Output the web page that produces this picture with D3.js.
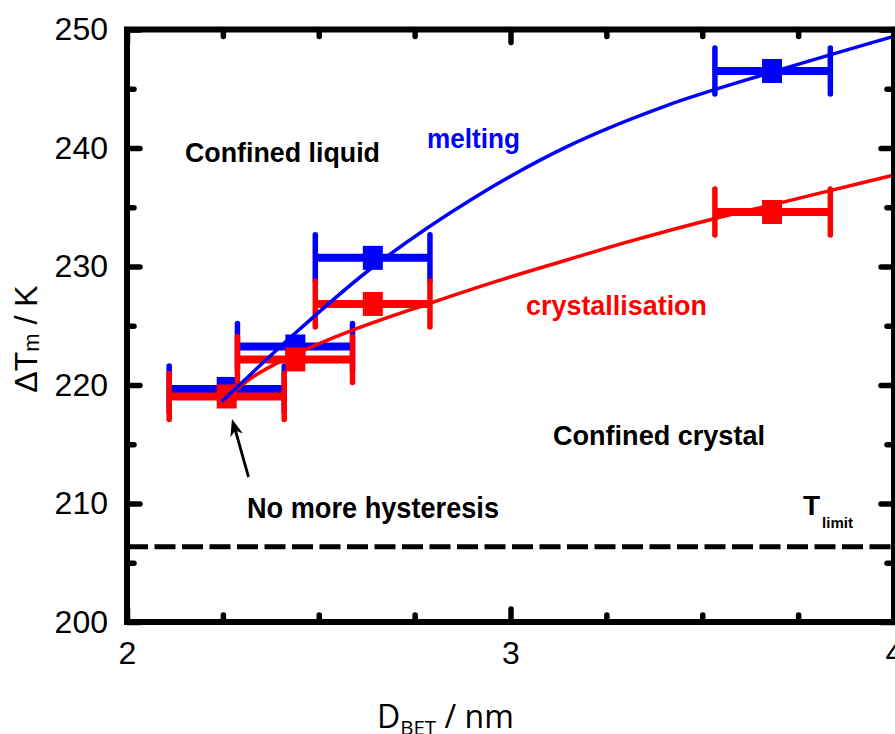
<!DOCTYPE html>
<html>
<head>
<meta charset="utf-8">
<script src="https://cdn.jsdelivr.net/npm/d3@7"></script>
<style>
  html, body { margin: 0; padding: 0; background: #fff; }
  svg { display: block; }
</style>
</head>
<body>
<svg id="chart" width="895" height="734"></svg>
<script>
// ---------- data ----------
const pointX      = [2.260, 2.439, 2.641, 3.682];
const xErrLow     = [2.110, 2.288, 2.491, 3.533];
const xErrHigh    = [2.410, 2.588, 2.790, 3.834];
const meltingY    = [219.67, 223.25, 230.73, 246.5];
const crystY      = [219.03, 222.16, 226.84, 234.6];

const meltFitX = [2.247, 2.450, 2.643, 2.900, 3.146, 3.400, 3.682, 3.997];
const meltFitY = [218.6, 224.7, 230.0, 235.7, 240.1, 243.5, 246.4, 249.4];
const crysFitX = [2.247, 2.329, 2.416, 2.590, 2.790, 2.973, 3.147, 3.320, 3.533, 3.681, 3.833, 3.998];
const crysFitY = [218.6, 220.7, 222.25, 224.65, 226.9, 228.85, 230.55, 232.2, 234.05, 235.2, 236.4, 237.7];

const tLimit = 206.35;
const xMajorTicks = [2, 3, 4];
const xMinorTicks = [2.25, 2.5, 2.75, 3.25, 3.5, 3.75];
const yMajorTicks = [200, 210, 220, 230, 240, 250];
const yMinorTicks = [205, 215, 225, 235, 245];

const BLUE = "#0000ff", RED = "#ff0000";

// ---------- scales ----------
const svg = d3.select("#chart");
const x = d3.scaleLinear().domain([2, 4]).range([127, 894]);
const y = d3.scaleLinear().domain([200, 250]).range([622, 29.5]);

svg.append("rect").attr("width", 895).attr("height", 734).attr("fill", "#fff");

const narrow = "'Liberation Sans Narrow', 'Arial Narrow', 'Liberation Sans', Arial, sans-serif";
const sans = "'Liberation Sans', Arial, sans-serif";

// ---------- axes (ticks inward) ----------
function styleAxis(g, labels) {
  g.select(".domain").remove();
  g.selectAll(".tick line").attr("stroke", "#000").attr("stroke-width", 5.5).attr("stroke-linecap", "round");
  g.selectAll(".tick text").attr("fill", "#000").attr("font-family", narrow).attr("font-size", 32);
  if (!labels) g.selectAll(".tick text").remove();
}
const majLen = 13, minLen = 7;
// left
svg.append("g").attr("transform", `translate(${x(2)},0)`)
  .call(d3.axisLeft(y).tickValues(yMajorTicks).tickSize(-majLen).tickPadding(19).tickFormat(d3.format("d")))
  .call(g => styleAxis(g, true));
svg.append("g").attr("transform", `translate(${x(2)},0)`)
  .call(d3.axisLeft(y).tickValues(yMinorTicks).tickSize(-minLen).tickFormat(""))
  .call(g => styleAxis(g, false));
// right
svg.append("g").attr("transform", `translate(${x(4)},0)`)
  .call(d3.axisRight(y).tickValues(yMajorTicks).tickSize(-majLen).tickFormat(""))
  .call(g => styleAxis(g, false));
svg.append("g").attr("transform", `translate(${x(4)},0)`)
  .call(d3.axisRight(y).tickValues(yMinorTicks).tickSize(-minLen).tickFormat(""))
  .call(g => styleAxis(g, false));
// bottom
svg.append("g").attr("transform", `translate(0,${y(200)})`)
  .call(d3.axisBottom(x).tickValues(xMajorTicks).tickSize(-majLen).tickPadding(19).tickFormat(d3.format("d")))
  .call(g => styleAxis(g, true));
svg.append("g").attr("transform", `translate(0,${y(200)})`)
  .call(d3.axisBottom(x).tickValues(xMinorTicks).tickSize(-minLen).tickFormat(""))
  .call(g => styleAxis(g, false));
// top
svg.append("g").attr("transform", `translate(0,${y(250)})`)
  .call(d3.axisTop(x).tickValues(xMajorTicks).tickSize(-majLen).tickFormat(""))
  .call(g => styleAxis(g, false));
svg.append("g").attr("transform", `translate(0,${y(250)})`)
  .call(d3.axisTop(x).tickValues(xMinorTicks).tickSize(-minLen).tickFormat(""))
  .call(g => styleAxis(g, false));

// ---------- T limit dashed line ----------
svg.append("line")
  .attr("x1", x(2)).attr("x2", x(4))
  .attr("y1", y(tLimit)).attr("y2", y(tLimit))
  .attr("stroke", "#000").attr("stroke-width", 5)
  .attr("stroke-dasharray", "21,6.5");

// ---------- error bars + markers ----------
function drawSeries(ys, color) {
  const g = svg.append("g");
  const idx = d3.range(pointX.length);
  g.selectAll(".hbar").data(idx).join("line")
    .attr("x1", i => x(xErrLow[i])).attr("x2", i => x(xErrHigh[i]))
    .attr("y1", i => y(ys[i])).attr("y2", i => y(ys[i]))
    .attr("stroke", color).attr("stroke-width", 8);
  [xErrLow, xErrHigh].forEach(arr => {
    g.selectAll(null).data(idx).join("line")
      .attr("x1", i => x(arr[i])).attr("x2", i => x(arr[i]))
      .attr("y1", i => y(ys[i]) - 23).attr("y2", i => y(ys[i]) + 23)
      .attr("stroke", color).attr("stroke-width", 5.5).attr("stroke-linecap", "round");
  });
  g.selectAll("rect").data(idx).join("rect")
    .attr("x", i => x(pointX[i]) - 10).attr("y", i => y(ys[i]) - 12)
    .attr("width", 20).attr("height", 24).attr("fill", color);
}
drawSeries(meltingY, BLUE);
drawSeries(crystY, RED);

// ---------- fit curves ----------
const line = d3.line().x(d => x(d[0])).y(d => y(d[1])).curve(d3.curveCatmullRom.alpha(0.5));
svg.append("path").datum(d3.zip(crysFitX, crysFitY)).attr("d", line)
  .attr("fill", "none").attr("stroke", RED).attr("stroke-width", 3.5);
svg.append("path").datum(d3.zip(meltFitX, meltFitY)).attr("d", line)
  .attr("fill", "none").attr("stroke", BLUE).attr("stroke-width", 3.5);

// ---------- frame ----------
svg.append("rect")
  .attr("x", x(2)).attr("y", y(250))
  .attr("width", x(4) - x(2)).attr("height", y(200) - y(250))
  .attr("fill", "none").attr("stroke", "#000").attr("stroke-width", 6);

// ---------- annotations ----------
function label(txt, px, py, size, width, color) {
  svg.append("text").attr("x", px).attr("y", py)
    .attr("font-family", sans).attr("font-weight", "bold").attr("font-size", size)
    .attr("fill", color || "#000")
    .attr("textLength", width).attr("lengthAdjust", "spacingAndGlyphs")
    .text(txt);
}
label("Confined liquid", 185, 162, 28, 195);
label("melting", 427, 148, 28, 93, BLUE);
label("crystallisation", 526, 315, 28, 181, RED);
label("Confined crystal", 553, 445, 28, 212);
label("No more hysteresis", 247, 518, 29, 252);

// T limit
const tl = svg.append("text").attr("x", 803).attr("y", 515)
  .attr("font-family", sans).attr("font-weight", "bold").attr("fill", "#000");
tl.append("tspan").attr("font-size", 28).text("T");
tl.append("tspan").attr("font-size", 15).attr("dx", 2).attr("dy", 13)
  .attr("font-family", narrow).text("limit");

// arrow
const ax1 = 248.5, ay1 = 477, ax2 = 232, ay2 = 419;
svg.append("line").attr("x1", ax1).attr("y1", ay1).attr("x2", ax2 + 3).attr("y2", ay2 + 10)
  .attr("stroke", "#000").attr("stroke-width", 2.8);
{
  const ang = Math.atan2(ay2 - ay1, ax2 - ax1);
  const L = 17, W = 6.5;
  const bx = ax2 - L * Math.cos(ang), by = ay2 - L * Math.sin(ang);
  const px = -Math.sin(ang), py = Math.cos(ang);
  svg.append("path")
    .attr("d", `M${ax2},${ay2} L${bx + W * px},${by + W * py} L${bx + 0.3 * L * Math.cos(ang)},${by + 0.3 * L * Math.sin(ang)} L${bx - W * px},${by - W * py} Z`)
    .attr("fill", "#000");
}

// ---------- axis titles ----------
const yt = svg.append("text")
  .attr("transform", `translate(37,339) rotate(-90)`)
  .attr("text-anchor", "middle")
  .attr("font-family", sans).attr("font-size", 32).attr("fill", "#000");
yt.append("tspan").text("ΔT");
yt.append("tspan").attr("font-size", 22).attr("dy", 2).text("m");
yt.append("tspan").attr("dy", -2).text(" / K");

const xt = svg.append("text").attr("x", 377).attr("y", 728)
  .attr("font-family", "'Open Sans', sans-serif").attr("font-size", 32).attr("fill", "#000");
xt.append("tspan").text("D");
xt.append("tspan").attr("font-size", 20.5).attr("dy", 7).text("BET");
xt.append("tspan").attr("dy", -7).text(" / nm");
</script>
</body>
</html>
